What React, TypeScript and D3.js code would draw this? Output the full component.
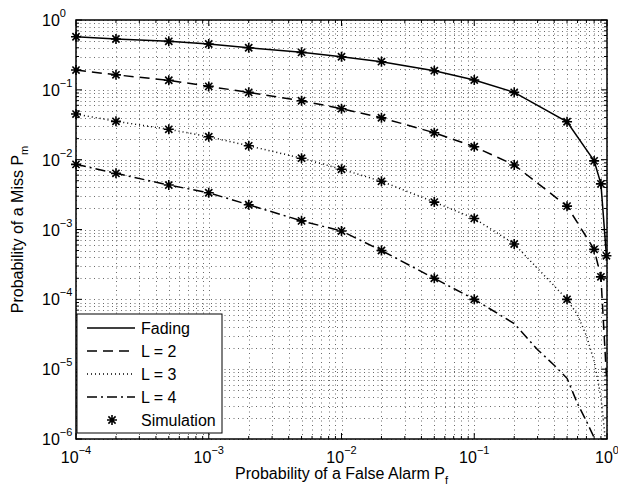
import React from 'react';
import * as d3 from 'd3';

// probability of false alarm where the simulation was run
const pfSim = [1e-4, 2e-4, 5e-4, 1e-3, 2e-3, 5e-3, 1e-2, 2e-2, 5e-2, 0.1, 0.2, 0.5, 0.8, 0.9, 0.99];

// theory curves (Pf, Pm)
const pfFading = pfSim;
const pmFading = [0.576, 0.534, 0.495, 0.453, 0.401, 0.344, 0.298, 0.253, 0.188, 0.138, 0.092, 0.0349, 0.0096, 0.0045, 0.00042];

const pfL2 = [1e-4, 2e-4, 5e-4, 1e-3, 2e-3, 5e-3, 1e-2, 2e-2, 5e-2, 0.1, 0.2, 0.5, 0.8, 0.9, 0.95, 0.99];
const pmL2 = [0.192, 0.164, 0.137, 0.112, 0.092, 0.0698, 0.0537, 0.0398, 0.0243, 0.0153, 0.0084, 0.00216, 5.2e-4, 2.1e-4, 3.3e-5, 8e-6];

const pfL3 = [1e-4, 2e-4, 5e-4, 1e-3, 2e-3, 5e-3, 1e-2, 2e-2, 5e-2, 0.1, 0.2, 0.5, 0.6, 0.7, 0.8, 0.9, 0.95, 0.97];
const pmL3 = [0.045, 0.0354, 0.0272, 0.0213, 0.0158, 0.0105, 0.0073, 0.0049, 0.00247, 0.00144, 6.2e-4, 1.0e-4, 6e-5, 3e-5, 1.3e-5, 4e-6, 1.5e-6, 1e-6];

const pfL4 = [1e-4, 2e-4, 5e-4, 1e-3, 2e-3, 5e-3, 1e-2, 2e-2, 5e-2, 0.1, 0.2, 0.3, 0.4, 0.5, 0.6, 0.7, 0.8, 0.85];
const pmL4 = [0.00857, 0.00637, 0.00433, 0.00336, 0.00226, 0.00133, 9.5e-4, 5.0e-4, 2.0e-4, 1.0e-4, 4.5e-5, 1.9e-5, 1.14e-5, 7.4e-6, 3.2e-6, 1.8e-6, 1.05e-6, 6e-7];

// simulated points (Pm at pfSim[i])
const simFading = [0.576, 0.534, 0.495, 0.453, 0.401, 0.344, 0.298, 0.253, 0.188, 0.138, 0.092, 0.0349, 0.0096, 0.0045, 0.00042];
const simL2 = [0.192, 0.164, 0.137, 0.112, 0.092, 0.0698, 0.0537, 0.0398, 0.0243, 0.0153, 0.0084, 0.00216, 5.2e-4, 2.1e-4];
const simL3 = [0.045, 0.0354, 0.0272, 0.0213, 0.0158, 0.0105, 0.0073, 0.0049, 0.00247, 0.00144, 6.2e-4, 1.0e-4];
const simL4 = [0.00857, 0.00637, 0.00433, 0.00336, 0.00226, 0.00133, 9.5e-4, 5.0e-4, 2.0e-4, 1.0e-4];

const xTickExp = [-4, -3, -2, -1, 0];
const yTickExp = [-6, -5, -4, -3, -2, -1, 0];
const legendNames = ['Fading', 'L = 2', 'L = 3', 'L = 4', 'Simulation'];

const W = 618;
const H = 492;
const margin = { top: 20, right: 11, bottom: 53, left: 76 };
const FONT = '"Liberation Sans", Arial, Helvetica, sans-serif';

const dashes = ['', '10 6', '1 3', '10 4 2 4'];

const star = 'M-5,0H5M0,-5V5M-3.6,-3.6L3.6,3.6M-3.6,3.6L3.6,-3.6';

export default function App() {
  const iw = W - margin.left - margin.right;
  const ih = H - margin.top - margin.bottom;
  const x = d3.scaleLog().domain([1e-4, 1]).range([0, iw]);
  const y = d3.scaleLog().domain([1e-6, 1]).range([ih, 0]);

  const line = d3.line<[number, number]>().x(d => x(d[0])).y(d => y(d[1]));
  const curves = [
    d3.zip(pfFading, pmFading),
    d3.zip(pfL2, pmL2),
    d3.zip(pfL3, pmL3),
    d3.zip(pfL4, pmL4),
  ] as [number, number][][];
  const sims = [simFading, simL2, simL3, simL4];

  const xAll = x.ticks();
  const yAll = y.ticks();
  const isMajor = (v: number) => Math.abs(Math.log10(v) - Math.round(Math.log10(v))) < 1e-9;

  return (
    <svg width={W} height={H} style={{ position: 'absolute', left: 0, top: 0, background: '#fff' }} fontFamily={FONT}>
      <defs>
        <clipPath id="plot">
          <rect x={0} y={0} width={iw} height={ih} />
        </clipPath>
      </defs>
      <rect width={W} height={H} fill="#fff" />
      <g transform={`translate(${margin.left},${margin.top})`}>
        {/* dotted grid, major and minor */}
        <g stroke="#6a6a6a" strokeWidth={1} strokeDasharray="1 3.5">
          {xAll.map((v, i) => (
            <line key={'gx' + i} x1={Math.round(x(v)) + 0.5} x2={Math.round(x(v)) + 0.5} y1={0} y2={ih} />
          ))}
          {yAll.map((v, i) => (
            <line key={'gy' + i} x1={0} x2={iw} y1={Math.round(y(v)) + 0.5} y2={Math.round(y(v)) + 0.5} />
          ))}
        </g>

        <g clipPath="url(#plot)" fill="none" stroke="#000" strokeWidth={1.5}>
          {curves.map((c, i) => (
            <path key={'c' + i} d={line(c) || ''} strokeDasharray={dashes[i] || undefined} />
          ))}
        </g>

        <g stroke="#000" strokeWidth={1.6} fill="none">
          {sims.map((s, k) =>
            s.map((v, i) => (
              <path key={`m${k}-${i}`} d={star} transform={`translate(${x(pfSim[i])},${y(v)})`} />
            ))
          )}
        </g>

        {/* box and ticks */}
        <g stroke="#000" strokeWidth={1}>
          {xAll.map((v, i) => {
            const len = isMajor(v) ? 6 : 3;
            const px = x(v);
            return (
              <g key={'tx' + i}>
                <line x1={px} x2={px} y1={ih} y2={ih - len} />
                <line x1={px} x2={px} y1={0} y2={len} />
              </g>
            );
          })}
          {yAll.map((v, i) => {
            const len = isMajor(v) ? 6 : 3;
            const py = y(v);
            return (
              <g key={'ty' + i}>
                <line x1={0} x2={len} y1={py} y2={py} />
                <line x1={iw} x2={iw - len} y1={py} y2={py} />
              </g>
            );
          })}
        </g>
        <rect x={0} y={0} width={iw} height={ih} fill="none" stroke="#000" strokeWidth={1.5} />

        {/* tick labels */}
        <g fontSize={16} fill="#000">
          {xTickExp.map(e => (
            <text key={'lx' + e} x={x(Math.pow(10, e))} y={ih + 24} textAnchor="middle">
              10
              <tspan fontSize={11} dy={-9}>{e < 0 ? '\u2212' + -e : String(e)}</tspan>
            </text>
          ))}
          {yTickExp.map(e => (
            <text key={'ly' + e} x={-34} y={y(Math.pow(10, e)) + 6} textAnchor="start">
              10
              <tspan fontSize={11} dy={-9}>{e < 0 ? '\u2212' + -e : String(e)}</tspan>
            </text>
          ))}
        </g>

        {/* legend */}
        <g transform={`translate(1,${ih - 125})`}>
          <rect x={0} y={0} width={145} height={119} fill="#fff" stroke="#000" strokeWidth={1} />
          {legendNames.map((name, i) => {
            const ly = 14 + i * 23;
            return (
              <g key={'lg' + i}>
                {i < 4 ? (
                  <line x1={10} x2={58} y1={ly} y2={ly} stroke="#000" strokeWidth={1.5} strokeDasharray={dashes[i] || undefined} />
                ) : (
                  <path d={star} transform={`translate(35,${ly})`} stroke="#000" strokeWidth={1.6} fill="none" />
                )}
                <text x={64} y={ly + 6} fontSize={16}>{name}</text>
              </g>
            );
          })}
        </g>
      </g>

      {/* axis labels */}
      <text x={margin.left + iw / 2} y={479} textAnchor="middle" fontSize={16}>
        Probability of a False Alarm P<tspan fontSize={11} dy={5}>f</tspan>
      </text>
      <text transform={`translate(23,${margin.top + ih / 2}) rotate(-90)`} textAnchor="middle" fontSize={16}>
        Probability of a Miss P<tspan fontSize={11} dy={5}>m</tspan>
      </text>
    </svg>
  );
}
